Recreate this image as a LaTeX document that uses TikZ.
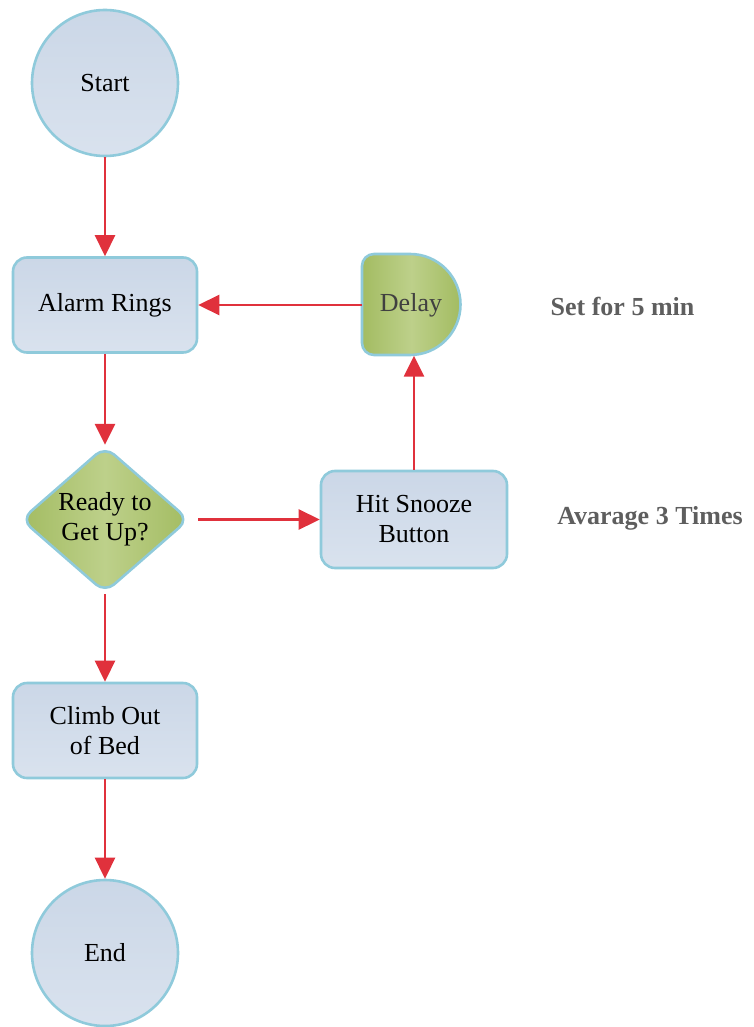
\documentclass[tikz,border=0pt]{standalone}
\usepackage{fontspec}
\setmainfont{Liberation Serif}
\usetikzlibrary{shapes.geometric,arrows.meta}
\definecolor{bdr}{HTML}{8FCADB}
\definecolor{btop}{HTML}{CBD7E7}
\definecolor{bbot}{HTML}{D9E2EE}
\definecolor{gside}{HTML}{A3BC62}
\definecolor{gmid}{HTML}{BDD08A}
\definecolor{arr}{HTML}{E0313C}
\definecolor{note}{HTML}{5E5E5E}
\tikzset{
  bluebox/.style={draw=bdr, line width=2.6pt, top color=btop, bottom color=bbot, rounded corners=14pt, minimum width=184pt, minimum height=95pt, inner sep=0pt, align=center, font=\fontsize{26}{30}\selectfont},
  bluecirc/.style={circle, draw=bdr, line width=2.6pt, top color=btop, bottom color=bbot, minimum size=146pt, inner sep=0pt, font=\fontsize{26}{30}\selectfont},
  greendia/.style={diamond, draw=bdr, line width=2.6pt, left color=gside, right color=gside, middle color=gmid, rounded corners=12pt, minimum width=168pt, minimum height=138pt, inner sep=0pt, align=center, font=\fontsize{26}{30}\selectfont},
  notetext/.style={text=note, font=\fontsize{26}{30}\selectfont\bfseries},
  flow/.style={draw=arr, line width=2.6pt, -{Triangle[length=21pt,width=20pt]}},
}
\begin{document}
\begin{tikzpicture}[x=1pt,y=-1pt]
\useasboundingbox (0,0) rectangle (754,1027);
\node[bluecirc] (start) at (105,83) {Start};
\node[bluebox] (alarm) at (105,305) {Alarm Rings};
\node[greendia] (ready) at (105,519.5) {Ready to\\Get Up?};
\node[bluebox, minimum width=186pt, minimum height=97pt] (snooze) at (414,519.5) {Hit Snooze\\Button};
\node[bluebox] (climb) at (105,730.5) {Climb Out\\of Bed};
\node[bluecirc] (end) at (105,953) {End};
% Delay shape
\path[draw=bdr, line width=2.6pt, left color=gside, right color=gside, middle color=gmid]
  (410,254) -- (374,254) to[out=180,in=90] (362,266) -- (362,343) to[out=-90,in=180] (374,355) -- (410,355)
  arc[start angle=90, end angle=-90, radius=50.5] -- cycle;
\node[minimum width=98pt, minimum height=101pt, inner sep=0pt, text=black!75, font=\fontsize{26}{30}\selectfont] (delay) at (411,305) {Delay};
\node[notetext] (n1) at (622.5,306) {Set for 5 min};
\node[notetext] (n2) at (650,518) {Avarage 3 Times};
% connectors
\draw[flow] (start) -- (alarm);
\draw[flow] (alarm) -- (ready);
\draw[flow] (ready) -- (climb);
\draw[flow] (climb) -- (end);
\draw[flow, shorten <=8pt] (ready.east) -- (snooze.west);
\draw[flow] (snooze.north) -- (snooze.north |- delay.south);
\draw[flow] (delay.west) -- (alarm.east);
\end{tikzpicture}
\end{document}
